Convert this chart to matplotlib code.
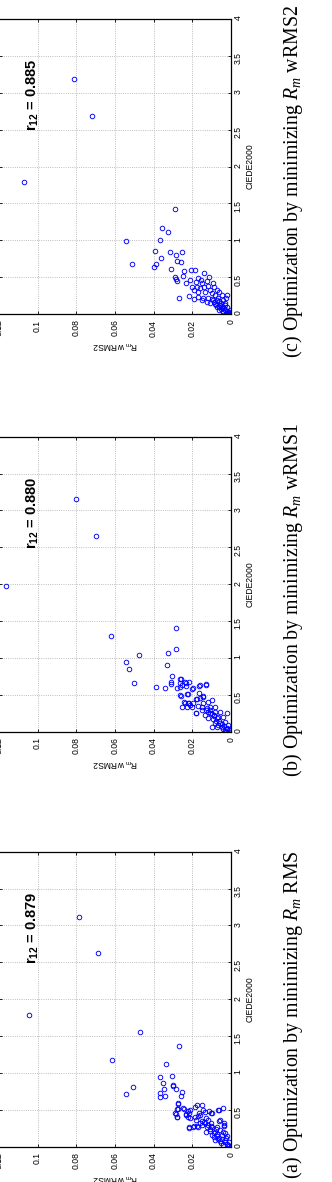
import matplotlib
matplotlib.use('Agg')
import matplotlib.pyplot as plt
from matplotlib.ticker import FixedLocator, FuncFormatter

plt.rcParams['mathtext.fontset'] = 'custom'
plt.rcParams['mathtext.rm'] = 'Liberation Sans'
plt.rcParams['mathtext.it'] = 'Liberation Serif:italic'
plt.rcParams['mathtext.bf'] = 'Liberation Sans:bold'

# (R_m wRMS2, CIEDE2000) pairs
points_a = [
    (0.1044, 1.782), (0.0787, 3.111), (0.0688, 2.631), (0.0615, 1.172), (0.0470, 1.551),
    (0.0541, 0.715), (0.0505, 0.814), (0.0267, 1.366), (0.0336, 1.117), (0.0366, 0.945),
    (0.0350, 0.860), (0.0345, 0.778), (0.0367, 0.724), (0.0367, 0.670), (0.0341, 0.692),
    (0.0303, 0.959), (0.0301, 0.837), (0.0284, 0.782), (0.0253, 0.738), (0.0259, 0.692),
    (0.0272, 0.588), (0.0290, 0.453), (0.0281, 0.399), (0.0276, 0.507), (0.0247, 0.521),
    (0.0234, 0.430), (0.0217, 0.453), (0.0212, 0.385), (0.0217, 0.249), (0.0186, 0.542),
    (0.0177, 0.565), (0.0148, 0.565), (0.0164, 0.453), (0.0143, 0.498), (0.0182, 0.362),
    (0.0195, 0.271), (0.0172, 0.271), (0.0103, 0.453), (0.0062, 0.498), (0.0040, 0.521),
    (0.0060, 0.353), (0.0036, 0.317), (0.0035, 0.285), (0.0131, 0.385),
    (0.0298, 0.823), (0.0272, 0.579), (0.0278, 0.511), (0.0241, 0.511), (0.0284, 0.443),
    (0.0278, 0.399), (0.0233, 0.439), (0.0224, 0.484), (0.0224, 0.407), (0.0212, 0.498),
    (0.0172, 0.416), (0.0186, 0.407), (0.0160, 0.430), (0.0134, 0.475), (0.0112, 0.488),
    (0.0100, 0.453), (0.0066, 0.498), (0.0151, 0.353), (0.0117, 0.362), (0.0057, 0.362),
    (0.0216, 0.263), (0.0190, 0.281), (0.0174, 0.285), (0.0151, 0.294), (0.0134, 0.317),
    (0.0105, 0.317), (0.0126, 0.263), (0.0100, 0.263), (0.0074, 0.271), (0.0036, 0.294),
    (0.0129, 0.203), (0.0109, 0.217), (0.0083, 0.203), (0.0057, 0.226), (0.0031, 0.190),
    (0.0100, 0.159), (0.0074, 0.145), (0.0048, 0.159), (0.0022, 0.145), (0.0083, 0.091),
    (0.0057, 0.081), (0.0031, 0.091), (0.0009, 0.068), (0.0040, 0.023), (0.0014, 0.023),
    (0.0000, 0.000), (0.0010, 0.010), (0.0020, 0.040), (0.0030, 0.060), (0.0045, 0.110),
    (0.0060, 0.120), (0.0070, 0.170), (0.0090, 0.190), (0.0110, 0.240), (0.0120, 0.300),
    (0.0140, 0.330), (0.0160, 0.320), (0.0050, 0.050), (0.0065, 0.100), (0.0090, 0.130),
    (0.0025, 0.120), (0.0040, 0.200), (0.0080, 0.240), (0.0105, 0.280),
]

points_b = [
    (0.1163, 1.976), (0.0801, 3.155), (0.0700, 2.658), (0.0622, 1.298), (0.0543, 0.945),
    (0.0526, 0.850), (0.0474, 1.036), (0.0500, 0.664), (0.0389, 0.602), (0.0340, 0.588),
    (0.0284, 1.406), (0.0283, 1.121), (0.0324, 1.067), (0.0329, 0.900), (0.0307, 0.755),
    (0.0310, 0.678), (0.0310, 0.643), (0.0262, 0.710), (0.0262, 0.656), (0.0281, 0.588),
    (0.0234, 0.656), (0.0216, 0.678), (0.0226, 0.511), (0.0262, 0.498), (0.0198, 0.588),
    (0.0255, 0.339), (0.0243, 0.403), (0.0128, 0.647), (0.0167, 0.620), (0.0164, 0.521),
    (0.0143, 0.484), (0.0182, 0.443), (0.0221, 0.393), (0.0210, 0.362), (0.0181, 0.249),
    (0.0260, 0.715), (0.0238, 0.678), (0.0252, 0.633), (0.0233, 0.620), (0.0203, 0.575),
    (0.0264, 0.610), (0.0160, 0.633), (0.0129, 0.633), (0.0260, 0.488), (0.0224, 0.507),
    (0.0160, 0.453), (0.0143, 0.466), (0.0177, 0.439), (0.0238, 0.393), (0.0216, 0.393),
    (0.0195, 0.385), (0.0226, 0.339), (0.0203, 0.331), (0.0169, 0.348), (0.0143, 0.385),
    (0.0117, 0.407), (0.0100, 0.430), (0.0181, 0.258), (0.0151, 0.294), (0.0126, 0.317),
    (0.0109, 0.339), (0.0083, 0.339), (0.0134, 0.226), (0.0109, 0.249), (0.0083, 0.271),
    (0.0057, 0.271), (0.0022, 0.249), (0.0117, 0.182), (0.0092, 0.168), (0.0066, 0.203),
    (0.0040, 0.195), (0.0083, 0.114), (0.0057, 0.122), (0.0031, 0.136), (0.0074, 0.060),
    (0.0048, 0.068), (0.0022, 0.046), (0.0005, 0.000), (0.0031, 0.000), (0.0100, 0.068),
    (0.0014, 0.091), (0.0010, 0.020), (0.0020, 0.030), (0.0035, 0.080), (0.0045, 0.100),
    (0.0060, 0.150), (0.0070, 0.180), (0.0090, 0.210), (0.0100, 0.240), (0.0030, 0.010),
    (0.0005, 0.040), (0.0040, 0.030), (0.0065, 0.090), (0.0080, 0.140), (0.0120, 0.270),
    (0.0130, 0.300), (0.0150, 0.330), (0.0110, 0.290), (0.0090, 0.230),
]

points_c = [
    (0.0813, 3.180), (0.0719, 2.690), (0.1072, 1.790), (0.0290, 1.420), (0.0358, 1.160),
    (0.0324, 1.110), (0.0544, 0.990), (0.0365, 1.000), (0.0393, 0.860), (0.0315, 0.845),
    (0.0255, 0.845), (0.0286, 0.800), (0.0363, 0.755), (0.0278, 0.720), (0.0257, 0.700),
    (0.0513, 0.674), (0.0389, 0.674), (0.0397, 0.640), (0.0309, 0.614),
    (0.0243, 0.583), (0.0207, 0.593), (0.0186, 0.593), (0.0138, 0.560), (0.0247, 0.515),
    (0.0290, 0.506), (0.0286, 0.475), (0.0281, 0.447), (0.0212, 0.461), (0.0172, 0.484),
    (0.0157, 0.461), (0.0112, 0.506), (0.0233, 0.416), (0.0181, 0.438), (0.0148, 0.424),
    (0.0126, 0.447), (0.0092, 0.416), (0.0200, 0.362), (0.0177, 0.362), (0.0160, 0.348),
    (0.0140, 0.362), (0.0117, 0.380), (0.0086, 0.362), (0.0074, 0.325), (0.0190, 0.325),
    (0.0169, 0.302), (0.0134, 0.302), (0.0109, 0.325), (0.0060, 0.302), (0.0100, 0.281),
    (0.0083, 0.258), (0.0048, 0.258), (0.0022, 0.258), (0.0269, 0.217), (0.0217, 0.244),
    (0.0190, 0.203), (0.0169, 0.235), (0.0143, 0.221), (0.0117, 0.213), (0.0092, 0.190),
    (0.0066, 0.213), (0.0040, 0.190), (0.0026, 0.221), (0.0109, 0.145), (0.0083, 0.136),
    (0.0057, 0.122), (0.0031, 0.145), (0.0074, 0.099), (0.0048, 0.077), (0.0022, 0.099),
    (0.0040, 0.031), (0.0014, 0.031), (0.0005, 0.054), (0.0000, 0.010), (0.0022, 0.010),
    (0.0060, 0.054), (0.0126, 0.167), (0.0151, 0.190), (0.0010, 0.020), (0.0020, 0.040),
    (0.0030, 0.060), (0.0035, 0.080), (0.0045, 0.110), (0.0050, 0.150), (0.0060, 0.170),
    (0.0070, 0.190), (0.0015, 0.005), (0.0005, 0.030), (0.0025, 0.015), (0.0040, 0.045),
    (0.0050, 0.070), (0.0060, 0.090), (0.0080, 0.120), (0.0090, 0.160), (0.0100, 0.200),
    (0.0030, 0.120),
]

r12_values = ['0.879', '0.880', '0.885']
captions = [
    r'(a) Optimization by minimizing $R_m$ RMS',
    r'(b) Optimization by minimizing $R_m$ wRMS1',
    r'(c) Optimization by minimizing $R_m$ wRMS2',
]
rms_ticks = [0, 0.02, 0.04, 0.06, 0.08, 0.1, 0.12]
ciede_ticks = [0, 0.5, 1, 1.5, 2, 2.5, 3, 3.5, 4]

W, H = 332, 1182
fig = plt.figure(figsize=(W / 100, H / 100), dpi=100)

# the page is turned on its side: CIEDE2000 runs upward, R_m wRMS2 runs leftward
ax_bottoms = [(H - 1146.7) / H, (H - 731.7) / H, (H - 314) / H]
cap_centres = [(H - 1015) / H, (H - 600) / H, (H - 181.5) / H]
fmt = FuncFormatter(lambda v, p: '%g' % v)

for pts, r12, caption, bot, cy in zip([points_a, points_b, points_c], r12_values,
                                      captions, ax_bottoms, cap_centres):
    ax = fig.add_axes([-1.2 / W, bot, 232.2 / W, 295 / H])
    rms = [p[0] for p in pts]
    ciede = [p[1] for p in pts]
    ax.plot(rms, ciede, 'o', mfc='none', mec='#0000ff', ms=3.3, mew=0.65)
    ax.set_xlim(0.12, 0)
    ax.set_ylim(0, 4)
    ax.xaxis.set_major_locator(FixedLocator(rms_ticks))
    ax.yaxis.set_major_locator(FixedLocator(ciede_ticks))
    ax.xaxis.set_major_formatter(fmt)
    ax.yaxis.set_major_formatter(fmt)
    ax.yaxis.tick_right()
    ax.yaxis.set_label_position('right')
    ax.tick_params(axis='x', direction='in', length=2.5, width=0.6, labelsize=6.2,
                   labelrotation=90, pad=4, top=True, bottom=True)
    ax.tick_params(axis='y', direction='in', length=2.5, width=0.6, labelsize=6.2,
                   labelrotation=90, pad=2, left=True, right=True)
    for lab in ax.get_xticklabels() + ax.get_yticklabels():
        lab.set_family('Liberation Sans')
    ax.set_ylabel('CIEDE2000', rotation=90, fontsize=6.2, labelpad=2, family='Liberation Sans')
    ax.set_xlabel(r'R$_\mathrm{m}$ wRMS2', rotation=180, fontsize=6.2, labelpad=2,
                  family='Liberation Sans')
    ax.grid(True, linestyle=':', color='#a8a8a8', linewidth=0.6)
    ax.set_axisbelow(True)
    for s in ax.spines.values():
        s.set_linewidth(0.9)
    ax.text(0.1003, 2.48, r'$\mathbf{r_{12}}$ = ' + r12, rotation=90, rotation_mode='anchor',
            ha='left', va='baseline', fontsize=10.5, fontweight='bold', family='Liberation Sans')
    fig.text(293 / W, cy, caption, rotation=90, ha='center', va='center',
             fontsize=14.3, family='Liberation Serif')

fig.savefig('out.png', dpi=100)
